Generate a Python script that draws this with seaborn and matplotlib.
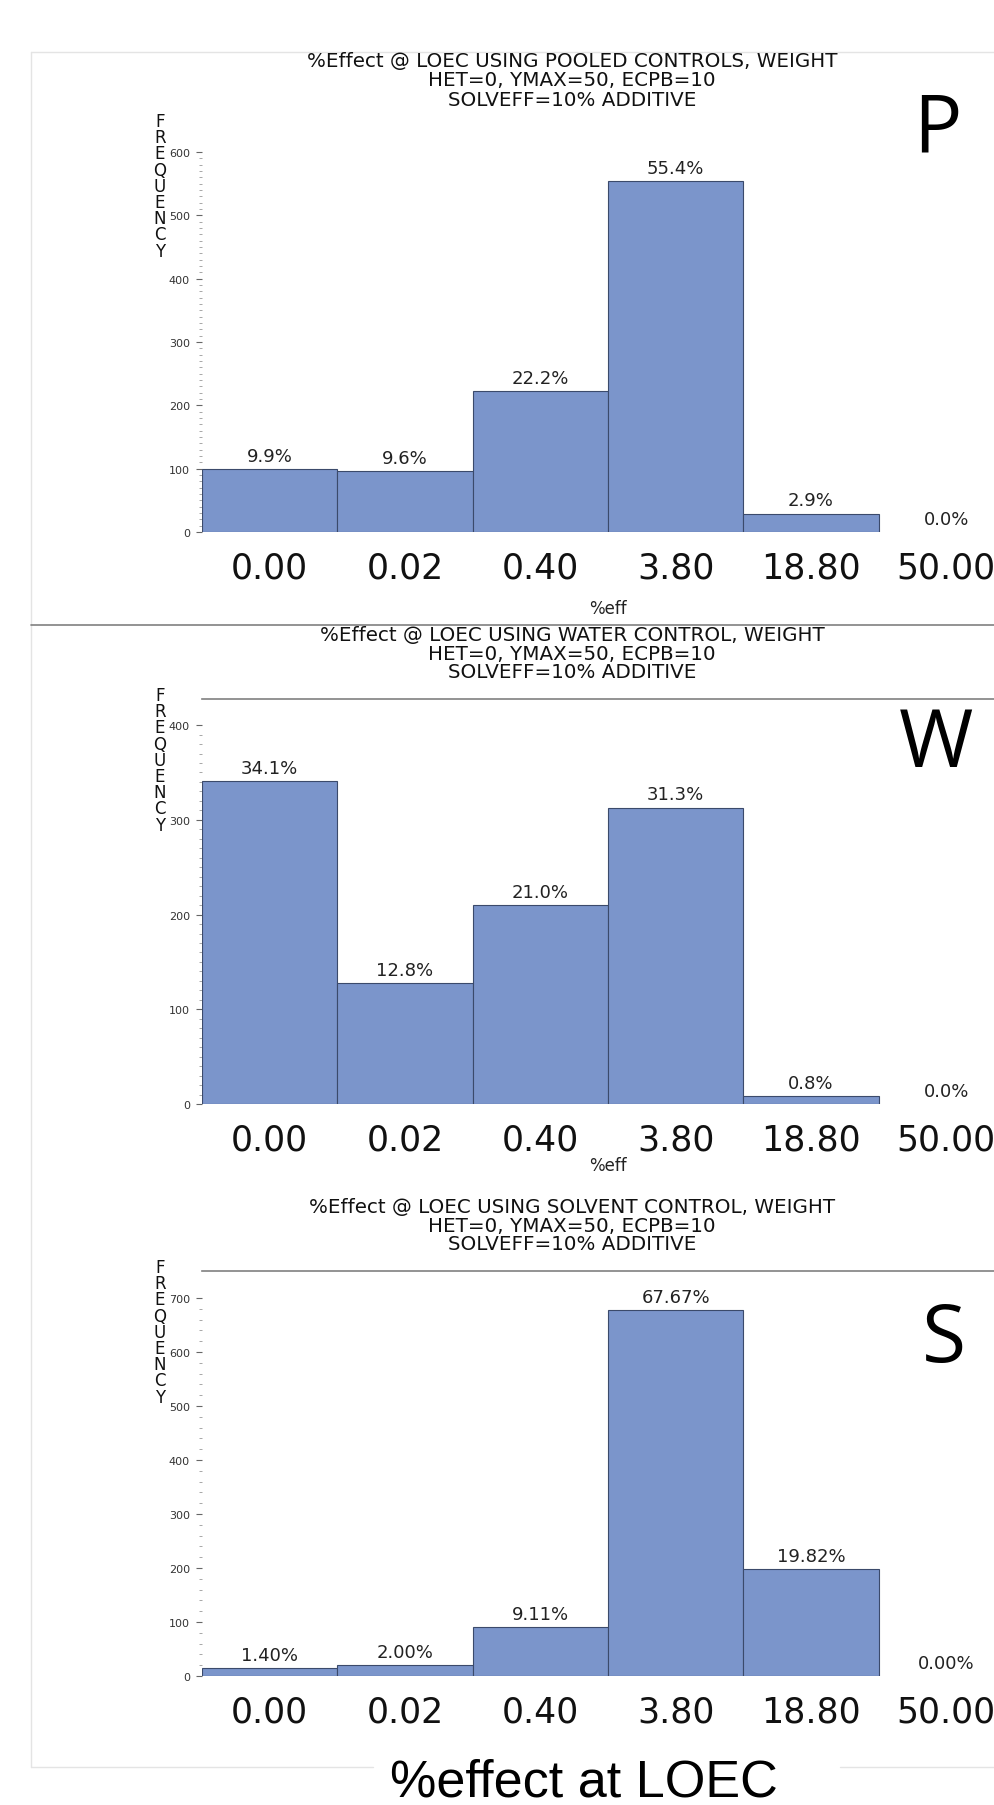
import matplotlib
matplotlib.use("Agg")
import matplotlib.pyplot as plt
from matplotlib.ticker import FixedLocator
from matplotlib.lines import Line2D
import seaborn as sns
import pandas as pd

# ---------------- data ----------------
categories = ["0.00", "0.02", "0.40", "3.80", "18.80", "50.00"]

pooled_counts = [99, 96, 222, 554, 29, 0]
pooled_labels = ["9.9%", "9.6%", "22.2%", "55.4%", "2.9%", "0.0%"]

water_counts = [341, 128, 210, 313, 8, 0]
water_labels = ["34.1%", "12.8%", "21.0%", "31.3%", "0.8%", "0.0%"]

solvent_counts = [14, 20, 91, 677, 198, 0]
solvent_labels = ["1.40%", "2.00%", "9.11%", "67.67%", "19.82%", "0.00%"]

titles_pooled = ["%Effect @ LOEC USING POOLED CONTROLS, WEIGHT",
                 "HET=0, YMAX=50, ECPB=10", "SOLVEFF=10% ADDITIVE"]
titles_water = ["%Effect @ LOEC USING WATER CONTROL, WEIGHT",
                "HET=0, YMAX=50, ECPB=10", "SOLVEFF=10% ADDITIVE"]
titles_solvent = ["%Effect @ LOEC USING SOLVENT CONTROL, WEIGHT",
                  "HET=0, YMAX=50, ECPB=10", "SOLVEFF=10% ADDITIVE"]

pooled_yticks = [0, 100, 200, 300, 400, 500, 600]
water_yticks = [0, 100, 200, 300, 400]
solvent_yticks = [0, 100, 200, 300, 400, 500, 600, 700]

panel_letters = ["P", "W", "S"]
ylabel_text = "FREQUENCY"
xlabel_small = "%eff"
bottom_label = "%effect at LOEC"

# ---------------- style ----------------
sns.set_style("white")
plt.rcParams["font.family"] = ["DejaVu Sans"]

BAR = "#7b95cb"
EDGE = "#3b4a6b"

W_PX, H_PX = 994, 1806
fig = plt.figure(figsize=(W_PX / 100, H_PX / 100), dpi=100)
fig.patch.set_facecolor("white")


def fx(x):
    return x / W_PX


def fy(y):
    return 1 - y / H_PX


def hline(y, x0, x1, color, lw):
    fig.add_artist(Line2D([fx(x0), fx(x1)], [fy(y), fy(y)], color=color, lw=lw,
                          transform=fig.transFigure))


def vline(x, y0, y1, color, lw):
    fig.add_artist(Line2D([fx(x), fx(x)], [fy(y0), fy(y1)], color=color, lw=lw,
                          transform=fig.transFigure))


# outer faint frame
FAINT = "#e4e4e4"
vline(31, 53, 1768, FAINT, 1.0)
hline(53, 31, 994, FAINT, 1.0)
hline(1768, 31, 373, FAINT, 1.0)
hline(1768, 840, 994, FAINT, 1.0)
# separator between first and second panel
hline(626, 31, 994, "#808080", 1.2)

panels = [
    dict(counts=pooled_counts, labels=pooled_labels, titles=titles_pooled,
         top=115, bottom=533, ymax=660, yticks=pooled_yticks, minor=10,
         title_y=[62, 81, 100], freq_top=120, topline=False, xlab_y=609,
         letter=(937, 153)),
    dict(counts=water_counts, labels=water_labels, titles=titles_water,
         top=700, bottom=1105, ymax=427.6, yticks=water_yticks, minor=10,
         title_y=[636, 654, 673], freq_top=694, topline=True, xlab_y=1166,
         letter=(936, 767)),
    dict(counts=solvent_counts, labels=solvent_labels, titles=titles_solvent,
         top=1272, bottom=1677, ymax=750, yticks=solvent_yticks, minor=20,
         title_y=[1208, 1227, 1245], freq_top=1266, topline=True, xlab_y=None,
         letter=(944, 1362)),
]

AX_L, AX_R = 202, 1014
LETTER_STEP = 16.2

for i, p in enumerate(panels):
    ax = fig.add_axes([fx(AX_L), fy(p["bottom"]), (AX_R - AX_L) / W_PX,
                       (p["bottom"] - p["top"]) / H_PX])
    df = pd.DataFrame({"cat": categories, "freq": p["counts"]})
    sns.barplot(data=df, x="cat", y="freq", order=categories, ax=ax, color=BAR,
                saturation=1, width=1.0, edgecolor=EDGE, linewidth=0.8,
                errorbar=None)
    for patch in ax.patches:
        if patch.get_height() == 0:
            patch.set_linewidth(0)
    ax.bar_label(ax.containers[0], labels=p["labels"], padding=3, fontsize=13,
                 color="#222222")
    ax.set_xlim(-0.5, 5.5)
    ax.set_ylim(0, p["ymax"])
    ax.set_xlabel("")
    ax.set_ylabel("")
    top_major = p["yticks"][-1]
    minors = [v for v in range(0, top_major + 1, p["minor"]) if v % 100 != 0]
    ax.yaxis.set_major_locator(FixedLocator(p["yticks"]))
    ax.yaxis.set_minor_locator(FixedLocator(minors))
    ax.tick_params(axis="y", which="major", left=True, length=4.3, width=0.8,
                   color="#666666", labelsize=8, labelcolor="#333333", pad=4.3)
    ax.tick_params(axis="y", which="minor", left=True, length=2.2, width=0.6,
                   color="#999999")
    ax.tick_params(axis="x", which="both", bottom=False, length=0, labelsize=25,
                   pad=13, labelcolor="#111111")
    for side in ["left", "right", "bottom"]:
        ax.spines[side].set_visible(False)
    if p["topline"]:
        ax.spines["top"].set_visible(True)
        ax.spines["top"].set_color("#808080")
        ax.spines["top"].set_linewidth(1.2)
    else:
        ax.spines["top"].set_visible(False)
    ax.set_facecolor("none")

    # titles
    for t, y in zip(p["titles"], p["title_y"]):
        fig.text(fx(572), fy(y), t, ha="center", va="center", fontsize=14.3,
                 color="#111111")
    # stacked FREQUENCY label, one letter under another
    for k, ch in enumerate(ylabel_text):
        fig.text(fx(160), fy(p["freq_top"] + k * LETTER_STEP), ch, ha="center",
                 va="center_baseline", fontsize=12, color="#111111")
    if p["xlab_y"] is not None:
        fig.text(fx(608), fy(p["xlab_y"]), xlabel_small, ha="center", va="center",
                 fontsize=12, color="#222222")
    lx, ly = p["letter"]
    fig.text(fx(lx), fy(ly), panel_letters[i], ha="center", va="baseline",
             fontsize=58, family=["Open Sans", "DejaVu Sans"], color="black")

fig.text(fx(584), fy(1797), bottom_label, ha="center", va="baseline",
         fontsize=37.5, family=["Liberation Sans", "DejaVu Sans"], color="black")

fig.savefig("out.png", dpi=100, facecolor="white")
